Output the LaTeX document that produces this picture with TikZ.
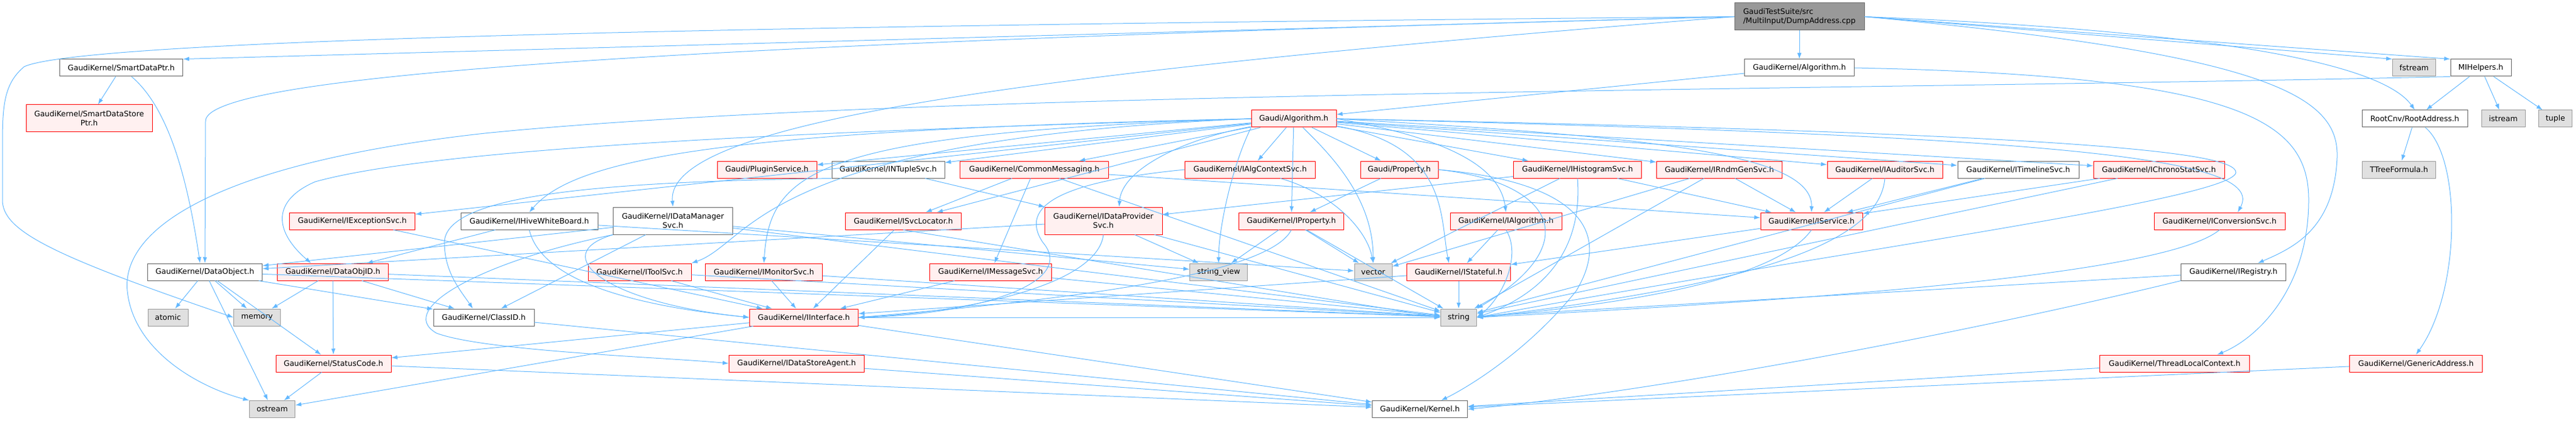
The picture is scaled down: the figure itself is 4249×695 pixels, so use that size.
\documentclass[tikz,border=0pt]{standalone}
\usepackage{fontspec}
\setmainfont{DejaVu Sans}
\usetikzlibrary{arrows.meta}

\definecolor{edgeblue}{HTML}{63B8FF}
\definecolor{truncfill}{HTML}{FFF0F0}
\definecolor{sysfill}{HTML}{E0E0E0}
\definecolor{sysline}{HTML}{999999}
\definecolor{fileline}{HTML}{666666}

\begin{document}
\begin{tikzpicture}[x=1pt,y=-1pt,>={Latex[length=10pt,width=7pt]},
        every node/.style={font=\fontsize{12.5}{15}\selectfont,minimum height=28pt,inner sep=0pt,line width=1pt},
        file/.style={draw=fileline,fill=white},
        trunc/.style={draw=red,fill=truncfill},
        sys/.style={draw=sysline,fill=sysfill},
        top file/.style={draw=fileline,fill=sysline,minimum height=45pt,align=left},
        every edge/.style={draw=edgeblue,line width=1pt,->},
        dep/.style={draw=edgeblue,line width=1pt,->}]

  \useasboundingbox (0,0) rectangle (4249,695);

  % top of the graph
  \node[top file,minimum width=214pt] (Dump Address) at (2968,27.5) {GaudiTestSuite/src\\/MultiInput/DumpAddress.cpp};
  \node[file,minimum width=181pt] (Kernel Algorithm) at (2968,112) {GaudiKernel/Algorithm.h};
  \node[file,minimum width=203pt] (Smart Data Ptr) at (200,112) {GaudiKernel/SmartDataPtr.h};
  \node[sys,minimum width=71pt] (fstream) at (3982,112) {fstream};
  \node[file,minimum width=100pt] (MI Helpers) at (4092,112) {MIHelpers.h};

  \node[trunc,minimum width=208pt,minimum height=45pt,align=center] (Smart Data Store Ptr) at (147,195.5) {GaudiKernel/SmartDataStore\\Ptr.h};
  \node[trunc,minimum width=140pt] (Gaudi Algorithm) at (2134,196) {Gaudi/Algorithm.h};
  \node[file,minimum width=174pt] (Root Address) at (3983,196) {RootCnv/RootAddress.h};
  \node[sys,minimum width=72pt] (istream) at (4129,196) {istream};
  \node[sys,minimum width=55pt] (tuple) at (4215,196) {tuple};

  % headers of Gaudi/Algorithm.h
  \node[trunc,minimum width=164pt] (Plugin Service) at (1265,280) {Gaudi/PluginService.h};
  \node[file,minimum width=186pt] (NTuple Svc) at (1465,280) {GaudiKernel/INTupleSvc.h};
  \node[trunc,minimum width=245pt] (Common Messaging) at (1706,280) {GaudiKernel/CommonMessaging.h};
  \node[trunc,minimum width=215pt] (Alg Context Svc) at (2062,280) {GaudiKernel/IAlgContextSvc.h};
  \node[trunc,minimum width=128pt] (Property) at (2308,280) {Gaudi/Property.h};
  \node[trunc,minimum width=211pt] (Histogram Svc) at (2602,280) {GaudiKernel/IHistogramSvc.h};
  \node[trunc,minimum width=207pt] (Rndm Gen Svc) at (2836,280) {GaudiKernel/IRndmGenSvc.h};
  \node[trunc,minimum width=190pt] (Auditor Svc) at (3109,280) {GaudiKernel/IAuditorSvc.h};
  \node[file,minimum width=200pt] (Timeline Svc) at (3329,280) {GaudiKernel/ITimelineSvc.h};
  \node[trunc,minimum width=216pt] (Chrono Stat Svc) at (3561,280) {GaudiKernel/IChronoStatSvc.h};
  \node[sys,minimum width=121pt] (TTree Formula) at (3957,280) {TTreeFormula.h};

  \node[trunc,minimum width=207pt] (Exception Svc) at (581,365) {GaudiKernel/IExceptionSvc.h};
  \node[file,minimum width=226pt] (Hive White Board) at (873,365) {GaudiKernel/IHiveWhiteBoard.h};
  \node[file,minimum width=197pt,minimum height=45pt,align=center] (Data Manager Svc) at (1110,364.5) {GaudiKernel/IDataManager\\Svc.h};
  \node[trunc,minimum width=191pt] (Svc Locator) at (1490,365) {GaudiKernel/ISvcLocator.h};
  \node[trunc,minimum width=194pt,minimum height=45pt,align=center] (Data Provider Svc) at (1820,364.5) {GaudiKernel/IDataProvider\\Svc.h};
  \node[trunc,minimum width=173pt] (IProperty) at (2130,365) {GaudiKernel/IProperty.h};
  \node[trunc,minimum width=184pt] (IAlgorithm) at (2484,365) {GaudiKernel/IAlgorithm.h};
  \node[trunc,minimum width=168pt] (Service) at (2988,365) {GaudiKernel/IService.h};
  \node[trunc,minimum width=216pt] (Conversion Svc) at (3661,365) {GaudiKernel/IConversionSvc.h};

  \node[file,minimum width=189pt] (Data Object) at (338,449) {GaudiKernel/DataObject.h};
  \node[trunc,minimum width=183pt] (Data Obj ID) at (549,449) {GaudiKernel/DataObjID.h};
  \node[trunc,minimum width=170pt] (Tool Svc) at (1055,449) {GaudiKernel/IToolSvc.h};
  \node[trunc,minimum width=193pt] (Monitor Svc) at (1260,449) {GaudiKernel/IMonitorSvc.h};
  \node[trunc,minimum width=201pt] (Message Svc) at (1634,449) {GaudiKernel/IMessageSvc.h};
  \node[sys,minimum width=95pt] (string view) at (2010,449) {string\_view};
  \node[sys,minimum width=62pt] (vector) at (2265,449) {vector};
  \node[trunc,minimum width=171pt] (Stateful) at (2406,449) {GaudiKernel/IStateful.h};
  \node[file,minimum width=173pt] (Registry) at (3684,449) {GaudiKernel/IRegistry.h};

  \node[sys,minimum width=66pt] (atomic) at (277,524) {atomic};
  \node[sys,minimum width=77pt] (memory) at (424,524) {memory};
  \node[file,minimum width=166pt] (Class ID) at (798,524) {GaudiKernel/ClassID.h};
  \node[trunc,minimum width=179pt] (Interface) at (1326,524) {GaudiKernel/IInterface.h};
  \node[sys,minimum width=59pt] (string) at (2406,524) {string};

  \node[trunc,minimum width=190pt] (Status Code) at (550,600) {GaudiKernel/StatusCode.h};
  \node[trunc,minimum width=223pt] (Data Store Agent) at (1314,600) {GaudiKernel/IDataStoreAgent.h};
  \node[trunc,minimum width=247pt] (Thread Local Context) at (3587,600) {GaudiKernel/ThreadLocalContext.h};
  \node[trunc,minimum width=219pt] (Generic Address) at (3985,600) {GaudiKernel/GenericAddress.h};

  \node[sys,minimum width=75pt] (ostream) at (449,675.5) {ostream};
  \node[file,minimum width=157pt] (Kernel) at (2342,675.5) {GaudiKernel/Kernel.h};

  % includes of DumpAddress.cpp
  \path (Dump Address) edge (Kernel Algorithm)
        (Dump Address.west) edge (Smart Data Ptr.north east)
        (Dump Address.east) edge (fstream.north west)
        (Dump Address.east) edge (MI Helpers.north west);
  \draw[dep] (Dump Address.west) .. controls (1500,40) and (150,60) .. (40,110)
        .. controls (4,140) and (4,180) .. (4,250) -- (4,330)
        .. controls (4,380) and (80,420) .. (memory.west);
  \draw[dep] (Dump Address.west) .. controls (1200,70) and (339,120) .. (339,200) -- (Data Object.north);
  \draw[dep] (Dump Address.west) .. controls (1700,120) and (1097,200) .. (Data Manager Svc.north);
  \draw[dep] (Dump Address.east) .. controls (3750,55) and (3940,120) .. (Root Address.north);
  \draw[dep] (Dump Address.east) .. controls (3750,90) and (3858,160) .. (3855,260)
        .. controls (3850,380) and (3780,410) .. ([xshift=40pt]Registry.north);

  \path (Smart Data Ptr) edge (Smart Data Store Ptr);
  \draw[dep] (Smart Data Ptr) .. controls (280,180) and (310,300) .. ([xshift=-8pt]Data Object.north);

  \path (Kernel Algorithm) edge (Gaudi Algorithm);
  \draw[dep] (Kernel Algorithm.east) .. controls (3700,125) and (3808,200) .. (3808,330)
        .. controls (3808,480) and (3720,560) .. ([xshift=70pt]Thread Local Context.north);

  \path (MI Helpers) edge (Root Address)
        (MI Helpers) edge (istream)
        (MI Helpers) edge (tuple)
        (Root Address) edge (TTree Formula);
  \draw[dep] (MI Helpers.south west) .. controls (3000,150) and (1500,150) .. (800,220)
        .. controls (350,270) and (200,380) .. (210,480)
        .. controls (220,580) and (330,640) .. (ostream.north west);
  \draw[dep] (Root Address) .. controls (4060,260) and (4060,480) .. (Generic Address.north);

  % includes of Gaudi/Algorithm.h
  \path (Gaudi Algorithm) edge (Plugin Service)
        (Gaudi Algorithm) edge (NTuple Svc)
        (Gaudi Algorithm) edge (Common Messaging)
        (Gaudi Algorithm) edge (Alg Context Svc)
        (Gaudi Algorithm) edge (Property)
        (Gaudi Algorithm) edge (Histogram Svc)
        (Gaudi Algorithm) edge (Rndm Gen Svc)
        (Gaudi Algorithm) edge (Auditor Svc)
        (Gaudi Algorithm) edge (Timeline Svc)
        (Gaudi Algorithm) edge (Chrono Stat Svc)
        (Gaudi Algorithm) edge (Exception Svc)
        (Gaudi Algorithm) edge (Svc Locator)
        (Gaudi Algorithm) edge (IProperty);
  \draw[dep] (Gaudi Algorithm.west) .. controls (1200,220) and (700,250) .. (520,300)
        .. controls (450,330) and (450,380) .. ([xshift=-36pt]Data Obj ID.north);
  \draw[dep] (Gaudi Algorithm.west) .. controls (1200,215) and (950,260) .. (Hive White Board.north);
  \draw[dep] (Gaudi Algorithm.west) .. controls (1250,230) and (1240,400) .. (Tool Svc.north east);
  \draw[dep] (Gaudi Algorithm.west) .. controls (1350,220) and (1270,280) .. (Monitor Svc.north);
  \draw[dep] (Gaudi Algorithm) .. controls (1950,230) and (1850,280) .. ([xshift=26pt]Data Provider Svc.north);
  \draw[dep] (Gaudi Algorithm.south west) .. controls (2030,280) and (2010,380) .. (string view.north);
  \draw[dep] (Gaudi Algorithm) .. controls (2200,260) and (2265,330) .. (vector.north);
  \draw[dep] (Gaudi Algorithm) .. controls (2390,240) and (2375,360) .. ([xshift=-16pt]Stateful.north);
  \draw[dep] (Gaudi Algorithm.east) .. controls (2400,230) and (2475,280) .. (IAlgorithm.north);
  \draw[dep] (Gaudi Algorithm.east) .. controls (2700,225) and (2990,250) .. (Service.north);
  \draw[dep] (Gaudi Algorithm.east) .. controls (3400,225) and (3740,260) .. ([xshift=30pt]Conversion Svc.north);
  \draw[dep] (Gaudi Algorithm.east) .. controls (3400,220) and (3690,250) .. (3688,285)
        .. controls (3680,330) and (3000,420) .. (string.east);

  % second level
  \path (Common Messaging) edge (Svc Locator)
        (Common Messaging) edge (Message Svc)
        (Common Messaging) edge (Service)
        (Common Messaging) edge (string)
        (Property) edge (IProperty)
        (Histogram Svc) edge (Service)
        (Histogram Svc) edge (Data Provider Svc)
        (Histogram Svc) edge (vector)
        (Rndm Gen Svc) edge (Service)
        (Rndm Gen Svc) edge (vector)
        (Rndm Gen Svc) edge (string)
        (Auditor Svc) edge (Service)
        (Timeline Svc) edge (Service)
        (Timeline Svc) edge (string)
        (Chrono Stat Svc) edge (Service)
        (Chrono Stat Svc) edge (string)
        (NTuple Svc) edge (Data Provider Svc);
  \draw[dep] (Alg Context Svc) .. controls (2200,320) and (2255,380) .. (vector.north);
  \draw[dep] (Alg Context Svc.west) .. controls (1750,300) and (1680,340) .. (1720,400)
        .. controls (1780,470) and (1600,520) .. (Interface.east);
  \draw[dep] (Property.east) .. controls (2600,300) and (2660,380) .. (2600,480)
        .. controls (2520,580) and (2420,640) .. ([xshift=35pt]Kernel.north);
  \draw[dep] (Property.east) .. controls (2560,300) and (2620,400) .. (string.north east);
  \draw[dep] (Histogram Svc.south) .. controls (2610,400) and (2560,480) .. (string.east);
  \draw[dep] (Auditor Svc.south) .. controls (3100,400) and (2900,470) .. (string.east);
  \draw[dep] (NTuple Svc.south west) .. controls (1000,300) and (735,320) .. (733,400)
        .. controls (733,450) and (760,480) .. ([xshift=-18pt]Class ID.north);

  \path (Exception Svc) edge (Interface)
        (Hive White Board) edge (Data Obj ID)
        (Hive White Board) edge (vector)
        (Data Manager Svc) edge (Data Object)
        (Data Manager Svc) edge (Class ID)
        (Data Manager Svc) edge (string view)
        (Data Manager Svc) edge (string)
        (Svc Locator) edge (Interface)
        (Svc Locator.south) edge (string.west)
        (Data Provider Svc) edge (Data Object)
        (Data Provider Svc) edge (string view)
        (Data Provider Svc) edge (string)
        (IProperty) edge (vector)
        (IProperty) edge (string)
        (IProperty) edge (string view)
        (IAlgorithm) edge (Stateful)
        (Service) edge (Stateful);
  \draw[dep] (Hive White Board.south) .. controls (890,450) and (1000,500) .. (Interface.west);
  \draw[dep] (Data Manager Svc.south west) .. controls (900,420) and (1000,500) .. (Interface.west);
  \draw[dep] (Data Manager Svc.south west) .. controls (800,430) and (650,510) .. (720,550)
        .. controls (800,580) and (1100,590) .. (Data Store Agent.west);
  \draw[dep] (Data Provider Svc.south) .. controls (1810,470) and (1600,515) .. (Interface.east);
  \draw[dep] (IProperty.south) .. controls (2090,460) and (1700,500) .. (Interface.east);
  \draw[dep] (IAlgorithm.south) .. controls (2510,420) and (2480,490) .. (string.east);
  \draw[dep] (Service.south) .. controls (2930,460) and (2700,500) .. (string.east);
  \draw[dep] (Conversion Svc.south) .. controls (3600,430) and (3300,480) .. (string.east);

  \path (Tool Svc) edge (Interface)
        (Tool Svc) edge (string)
        (Monitor Svc) edge (Interface)
        (Monitor Svc) edge (string)
        (Message Svc) edge (Interface)
        (Message Svc) edge (string)
        (Stateful) edge (string)
        (Stateful) edge (Interface)
        (Registry) edge (string);
  \draw[dep] (Registry.south west) .. controls (3200,560) and (2700,650) .. (Kernel.east);

  % lower levels
  \path (Data Object) edge (atomic)
        (Data Object) edge (memory)
        (Data Object) edge (ostream)
        (Data Object) edge (Status Code)
        (Data Object) edge (Class ID)
        (Data Object) edge (string)
        (Data Obj ID) edge (memory)
        (Data Obj ID) edge (Status Code)
        (Data Obj ID) edge (string)
        (Data Obj ID) edge (Class ID)
        (Interface) edge (Status Code)
        (Interface) edge (ostream)
        (Interface) edge (Kernel)
        (Interface) edge (string)
        (Status Code) edge (ostream)
        (Status Code) edge (Kernel)
        (Class ID) edge (Kernel)
        (Data Store Agent) edge (Kernel)
        (Thread Local Context) edge (Kernel)
        (Generic Address) edge (Kernel);
\end{tikzpicture}
\end{document}
